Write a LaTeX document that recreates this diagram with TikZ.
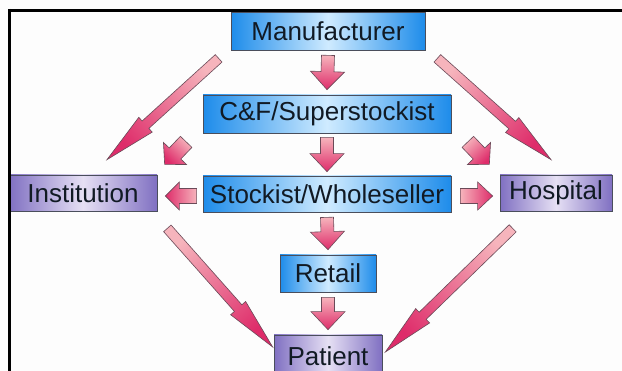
\documentclass[tikz,border=0pt]{standalone}
\usepackage{fontspec}
\setmainfont{Liberation Sans}
\usetikzlibrary{calc}

\definecolor{pagebg}{HTML}{FDFDFD}
\definecolor{blueedge}{HTML}{1E8CEA}
\definecolor{bluemid}{HTML}{CFEBFF}
\definecolor{purpleedge}{HTML}{8070C2}
\definecolor{purplemid}{HTML}{E6E0F4}
\definecolor{boxline}{HTML}{4A4E5C}
\definecolor{textcol}{HTML}{111A24}
\definecolor{arrowlight}{HTML}{F6B4BC}
\definecolor{arrowdark}{HTML}{DE2C6A}
\definecolor{arrowline}{HTML}{6A4A58}

\tikzset{
  labelbox/.style={rectangle, draw=boxline, line width=0.7pt, inner sep=0pt,
    text=textcol, font=\fontsize{26}{30}\selectfont},
  bluebox/.style={labelbox, left color=blueedge, right color=blueedge, middle color=bluemid},
  purplebox/.style={labelbox, left color=purpleedge, right color=purpleedge, middle color=purplemid},
  flowarrow/.style={draw=arrowline, line width=0.6pt, line join=miter,
    top color=arrowlight, bottom color=arrowdark},
}

% Block arrow from tail #1 to tip #2:
% #3 shaft half-width, #4 head half-width, #5 head length
\newcommand\flowarrow[5]{%
  \coordinate (fa-t) at #1;
  \coordinate (fa-p) at #2;
  \coordinate (fa-h) at ($(fa-p)!#5!(fa-t)$);
  \pgfmathanglebetweenpoints{\pgfpointanchor{fa-t}{center}}{\pgfpointanchor{fa-p}{center}}%
  \pgfmathsetmacro\faangle{\pgfmathresult+90}%
  \shade[flowarrow, shading angle=\faangle]
    ($(fa-t)!#3!90:(fa-p)$) -- ($(fa-h)!#3!90:(fa-p)$) -- ($(fa-h)!#4!90:(fa-p)$)
    -- (fa-p)
    -- ($(fa-h)!#4!-90:(fa-p)$) -- ($(fa-h)!#3!-90:(fa-p)$) -- ($(fa-t)!#3!-90:(fa-p)$)
    -- cycle;
}

\begin{document}
\begin{tikzpicture}[x=1pt,y=-1pt]
\useasboundingbox (0,0) rectangle (622,371);
\clip (0,0) rectangle (622,371);
\fill[pagebg] (0,0) rectangle (622,371);

% boxes
\node[bluebox, minimum width=194pt, minimum height=38pt] (man) at (328,31) {Manufacturer};
\node[bluebox, minimum width=248pt, minimum height=38pt] (cf) at (327,114) {C\&F/Superstockist};
\node[bluebox, minimum width=248pt, minimum height=36pt] (stock) at (327,194) {Stockist/Wholeseller};
\node[purplebox, minimum width=148pt, minimum height=36pt] (inst) at (83,193) {Institution};
\node[purplebox, minimum width=112pt, minimum height=36pt] (hosp) at (556,193) {Hospital};
\node[bluebox, minimum width=96pt, minimum height=37pt] (retail) at (328,273.5) {Retail};
\node[purplebox, minimum width=108pt, minimum height=42pt] (patient) at (328,356) {Patient};

% main chain
\flowarrow{($(man.south)+(0,5)$)}{($(cf.north)+(0,-5)$)}{6.5pt}{17pt}{18pt}
\flowarrow{($(cf.south)+(0,4)$)}{($(stock.north)+(0,-4)$)}{6.5pt}{17pt}{18pt}
\flowarrow{($(stock.south)+(0,5)$)}{($(retail.north)+(0,-5)$)}{6.5pt}{17pt}{18pt}
\flowarrow{($(retail.south)+(0,5)$)}{($(patient.north)+(0,-5)$)}{6.5pt}{17pt}{18pt}

% side branches
\flowarrow{($(stock.west)+(-6,2)$)}{($(inst.east)+(8,3)$)}{7.5pt}{14pt}{14pt}
\flowarrow{($(stock.east)+(9,2)$)}{($(hosp.west)+(-7,3)$)}{7.5pt}{14pt}{15pt}
\flowarrow{($(cf.south west)+(-16.5,8.5)$)}{($(cf.south west)+(-38,31)$)}{8pt}{16pt}{15pt}
\flowarrow{($(cf.south east)+(16.5,8.5)$)}{($(cf.south east)+(38,31)$)}{8pt}{16pt}{15pt}

% long direct routes
\flowarrow{($(man.south west)+(-12,8)$)}{($(inst.north)+(24,-15)$)}{5pt}{10pt}{52pt}
\flowarrow{($(man.south east)+(12,8)$)}{($(hosp.north)+(-5,-15)$)}{5pt}{10pt}{52pt}
\flowarrow{($(inst.south east)+(10,17)$)}{($(patient.west)+(-1,-9)$)}{5pt}{10pt}{52pt}
\flowarrow{($(hosp.south west)+(13,17)$)}{($(patient.east)+(3,-4)$)}{5pt}{10pt}{52pt}

% frame
\draw[black, line width=3pt] (8,10.5) -- (622,10.5);
\draw[black, line width=3pt] (9.5,9) -- (9.5,371);
\end{tikzpicture}
\end{document}
